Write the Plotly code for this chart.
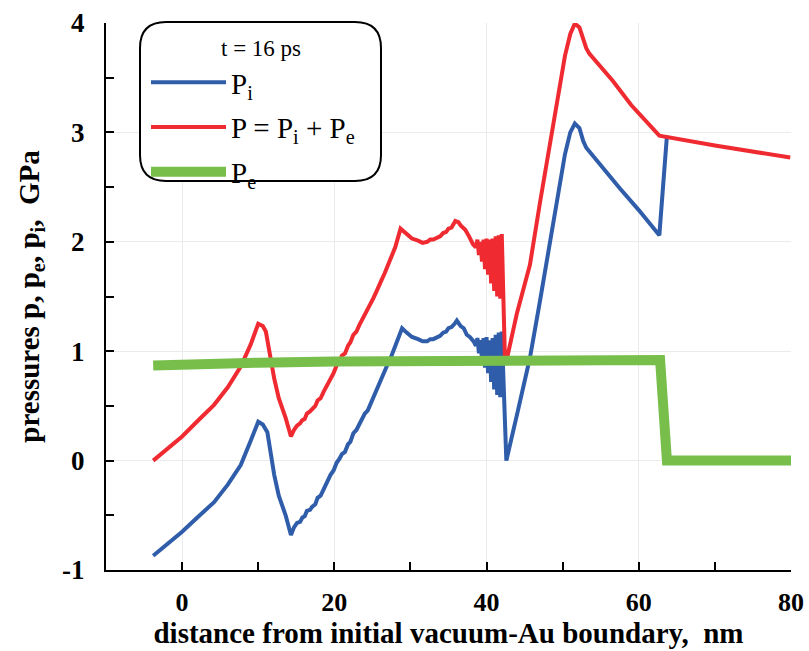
import plotly.graph_objects as go

# ---------------- data ----------------
pi_x = [-3.8, -2.0, 0.0, 2.0, 4.2, 6.0, 7.7, 9.0, 10.0, 10.6, 11.2, 12.1, 12.7, 13.6, 14.3,
        14.7, 15.1, 15.5, 15.8, 16.1, 16.4, 16.8, 17.1, 17.5, 17.8, 18.2, 18.6, 19.0,
        19.5, 19.9, 20.3, 20.7, 21.0, 21.4, 21.8, 22.1, 22.5, 22.9, 23.3, 23.6, 24.0,
        24.4, 24.7, 25.1, 25.5, 25.8, 26.2, 26.6, 27.0, 27.3, 27.7, 28.0, 28.4, 28.9,
        29.5, 30.2, 31.0, 31.6, 32.2, 32.6, 33.0, 33.5, 33.9, 34.3, 34.7, 35.0, 35.4,
        35.8, 36.1, 36.6, 37.0, 37.4, 37.8, 38.3,
        38.6, 38.8, 39.0, 39.2, 39.4, 39.6, 39.8, 40.0, 40.2, 40.4, 40.6, 40.8, 41.0,
        41.2, 41.4, 41.6, 41.8, 42.0,
        42.6, 44.0, 45.7, 47.0, 48.3, 49.5, 50.3, 51.0, 51.6, 52.2, 52.7, 53.1, 53.7,
        55.5, 57.5, 60.0, 62.7, 63.7]
pi_y = [-0.87, -0.77, -0.65, -0.52, -0.38, -0.22, -0.04, 0.18, 0.355, 0.33, 0.26, -0.13,
        -0.32, -0.50, -0.68, -0.61, -0.57, -0.56, -0.52, -0.51, -0.46, -0.45, -0.42, -0.40,
        -0.34, -0.32, -0.26, -0.21, -0.13, -0.09, -0.02, 0.02, 0.06, 0.08, 0.15, 0.17,
        0.25, 0.28, 0.34, 0.38, 0.43, 0.46, 0.51, 0.58, 0.64, 0.68, 0.75, 0.81, 0.88,
        0.92, 0.99, 1.05, 1.13, 1.21,
        1.17, 1.13, 1.11, 1.09, 1.09, 1.11, 1.11, 1.13, 1.14, 1.17, 1.18, 1.21, 1.22,
        1.25, 1.28, 1.23, 1.21, 1.15, 1.13, 1.09,
        1.05, 1.12, 0.98, 1.10, 0.92, 1.12, 0.85, 1.13, 0.80, 1.10, 0.72, 1.12, 0.65,
        1.15, 0.60, 1.17, 0.58, 1.18,
        0.00, 0.42, 0.94, 1.45, 2.00, 2.48, 2.80, 3.00, 3.08, 3.04, 2.92, 2.86, 2.81,
        2.65, 2.49, 2.29, 2.06, 2.97]

p_x = [-3.8, -2.0, 0.0, 2.0, 4.2, 6.0, 7.7, 9.0, 10.0, 10.6, 11.0, 12.1, 12.7, 13.6, 14.3,
       14.7, 15.1, 15.5, 15.8, 16.1, 16.4, 16.8, 17.1, 17.5, 17.8, 18.2, 18.6, 19.0,
       19.5, 19.9, 20.3, 20.7, 21.0, 21.4, 21.8, 22.1, 22.5, 22.9, 23.3, 23.6, 24.0,
       24.4, 24.7, 25.1, 25.5, 25.8, 26.2, 26.6, 27.0, 27.3, 27.7, 28.0, 28.7,
       29.5, 30.2, 31.0, 31.6, 32.2, 32.6, 33.0, 33.5, 33.9, 34.3, 34.7, 35.0, 35.4,
       35.9, 36.3, 36.6, 37.2, 37.7, 38.2,
       38.6, 38.8, 39.0, 39.2, 39.4, 39.6, 39.8, 40.0, 40.2, 40.4, 40.6, 40.8, 41.0,
       41.2, 41.4, 41.6, 41.8, 42.0,
       42.4, 42.8, 44.0, 45.7, 47.0, 48.3, 49.5, 50.3, 51.0, 51.6, 52.2, 52.7, 53.1,
       53.5, 55.0, 56.6, 59.0, 62.7, 70.0, 79.9]
p_y = [0.00, 0.10, 0.22, 0.36, 0.51, 0.67, 0.86, 1.06, 1.25, 1.23, 1.18, 0.75, 0.57,
       0.39, 0.22, 0.28, 0.32, 0.34, 0.37, 0.38, 0.43, 0.45, 0.47, 0.50, 0.55, 0.57,
       0.63, 0.68, 0.76, 0.80, 0.87, 0.91, 0.96, 0.98, 1.05, 1.08, 1.15, 1.18, 1.24,
       1.28, 1.33, 1.37, 1.41, 1.48, 1.54, 1.58, 1.65, 1.71, 1.78, 1.82, 1.89, 1.95, 2.12,
       2.07, 2.03, 2.01, 1.99, 2.00, 2.02, 2.02, 2.04, 2.05, 2.08, 2.09, 2.12, 2.13,
       2.19, 2.18, 2.15, 2.11, 2.05, 1.98,
       1.95, 2.02, 1.88, 2.00, 1.82, 2.02, 1.75, 2.03, 1.70, 2.02, 1.62, 2.03, 1.55,
       2.05, 1.50, 2.06, 1.48, 2.07,
       0.97, 0.97, 1.35, 1.79, 2.35, 2.90, 3.40, 3.70, 3.90, 3.995, 3.96, 3.86, 3.77,
       3.72, 3.60, 3.47, 3.25, 2.97, 2.88, 2.77]

pe_x = [-3.8, 0.0, 10.0, 20.0, 30.0, 40.0, 45.0, 50.0, 55.0, 62.8, 63.7, 80.0]
pe_y = [0.87, 0.88, 0.895, 0.905, 0.91, 0.915, 0.92, 0.935, 0.935, 0.92, 0.0, 0.0]

x_tickvals = [0, 20, 40, 60, 80]
x_ticktext = ["0", "20", "40", "60", "80"]
y_tickvals = [-1, 0, 1, 2, 3, 4]
y_ticktext = ["-1", "0", "1", "2", "3", "4"]

legend_title = "t = 16 ps"

# ---------------- figure ----------------
W, H = 809, 651
ML, MR, MT, MB = 106, 18, 23, 81
PW, PH = W - ML - MR, H - MT - MB
FONT = "Liberation Serif"

fig = go.Figure()
fig.add_trace(go.Scatter(x=pi_x, y=pi_y, mode="lines", name="P<sub>i</sub>",
                         line=dict(color="#2F5DAA", width=4), legendgroup="a"))
fig.add_trace(go.Scatter(x=p_x, y=p_y, mode="lines", name="P = P<sub>i</sub> + P<sub>e</sub>",
                         line=dict(color="#EF2B31", width=4), legendgroup="b"))
fig.add_trace(go.Scatter(x=pe_x, y=pe_y, mode="lines", name="P<sub>e</sub>",
                         line=dict(color="#77BF4A", width=10), legendgroup="c"))


def px2x(px):
    return (px - ML) / PW


def py2y(py):
    return (H - MB - py) / PH


# rounded legend box
x0, x1, y0, y1, r = 140, 381, 22, 181, 26
path = (f"M {px2x(x0 + r)},{py2y(y0)} L {px2x(x1 - r)},{py2y(y0)} "
        f"Q {px2x(x1)},{py2y(y0)} {px2x(x1)},{py2y(y0 + r)} "
        f"L {px2x(x1)},{py2y(y1 - r)} Q {px2x(x1)},{py2y(y1)} {px2x(x1 - r)},{py2y(y1)} "
        f"L {px2x(x0 + r)},{py2y(y1)} Q {px2x(x0)},{py2y(y1)} {px2x(x0)},{py2y(y1 - r)} "
        f"L {px2x(x0)},{py2y(y0 + r)} Q {px2x(x0)},{py2y(y0)} {px2x(x0 + r)},{py2y(y0)} Z")
fig.add_shape(type="path", path=path, xref="paper", yref="paper",
              line=dict(color="black", width=2), fillcolor="white", layer="above")

fig.add_annotation(text=legend_title, xref="paper", yref="paper",
                   x=px2x(261), y=py2y(49), xanchor="center", yanchor="middle",
                   showarrow=False, font=dict(size=23, family=FONT, color="black"))

fig.update_layout(
    width=W, height=H,
    margin=dict(l=ML, r=MR, t=MT, b=MB, autoexpand=False),
    plot_bgcolor="white", paper_bgcolor="white",
    font=dict(family=FONT, color="black"),
    showlegend=True,
    legend=dict(
        x=px2x(146), y=py2y(57), xanchor="left", yanchor="top",
        bgcolor="rgba(0,0,0,0)", borderwidth=0,
        font=dict(size=29, family=FONT),
        itemwidth=75, tracegroupgap=4, traceorder="grouped",
    ),
    xaxis=dict(
        range=[-10, 80], tickvals=x_tickvals, ticktext=x_ticktext, automargin=False,
        showgrid=True, gridcolor="#ebebeb", gridwidth=1, zeroline=False,
        showline=True, linecolor="black", linewidth=2,
        ticks="inside", ticklen=8, tickwidth=1.5, tickcolor="black",
        minor=dict(dtick=10, tick0=0, ticks="inside", ticklen=8, tickwidth=1.5,
                   tickcolor="black", showgrid=False),
        tickfont=dict(size=26, family=FONT, weight="bold"),
        ticklabelstandoff=8,
        title=dict(text="distance from initial vacuum-Au boundary, \u00a0nm",
                   font=dict(size=29, family=FONT, weight="bold"), standoff=4),
    ),
    yaxis=dict(
        range=[-1, 4], tickvals=y_tickvals, ticktext=y_ticktext, automargin=False,
        showgrid=True, gridcolor="#ebebeb", gridwidth=1, zeroline=False,
        showline=True, linecolor="black", linewidth=2,
        ticks="inside", ticklen=8, tickwidth=1.5, tickcolor="black",
        minor=dict(dtick=0.5, tick0=0, ticks="inside", ticklen=8, tickwidth=1.5,
                   tickcolor="black", showgrid=False),
        tickfont=dict(size=27, family=FONT, weight="bold"),
        ticklabelstandoff=14,
        title=dict(text="pressures p, p<sub>e</sub>, p<sub>i</sub>, \u00a0GPa",
                   font=dict(size=29, family=FONT, weight="bold"), standoff=14),
    ),
)

fig.write_html("out.html")
